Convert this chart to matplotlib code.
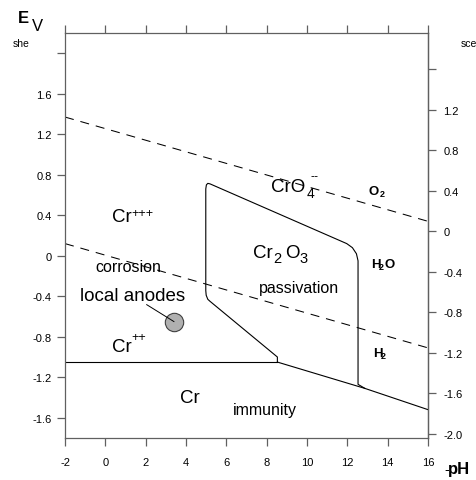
import matplotlib
matplotlib.use("Agg")
import matplotlib.pyplot as plt

plt.rcParams['font.family'] = ['Liberation Sans', 'DejaVu Sans']
plt.rcParams['axes.unicode_minus'] = False
plt.rcParams['lines.scale_dashes'] = False

# Pourbaix diagram of chromium
o2_ph = [-2, 16]
o2_e = [1.37, 0.34]
h2_ph = [-2, 16]
h2_e = [0.12, -0.91]

cr_ph = [-2, 8.53]
cr_e = [-1.05, -1.05]

oxide_ph = [8.53, 8.53, 5.19, 5.08, 5.0, 4.98, 4.98, 5.01, 5.08, 5.19,
            11.97, 12.25, 12.45, 12.53, 12.53, 12.87]
oxide_e = [-1.05, -1.0, -0.45, -0.43, -0.39, -0.345, 0.66, 0.70, 0.715, 0.71,
           0.12, 0.08, 0.02, -0.05, -1.27, -1.31]

low_ph = [8.53, 12.87, 16]
low_e = [-1.05, -1.31, -1.52]

anode_ph = 3.40
anode_e = -0.65

x_ticks = [-2, 0, 2, 4, 6, 8, 10, 12, 14, 16]
she_ticks = [-1.6, -1.2, -0.8, -0.4, 0, 0.4, 0.8, 1.2, 1.6, 2.0]
she_labels = ['-1.6', '-1.2', '-0.8', '-0.4', '0', '0.4', '0.8', '1.2', '1.6', '']
sce_ticks = [-2.0, -1.6, -1.2, -0.8, -0.4, 0, 0.4, 0.8, 1.2, 1.6]
sce_labels = ['-2.0', '-1.6', '-1.2', '-0.8', '-0.4', '0', '0.4', '0.8', '1.2', '']
sce_offset = 0.241

fig = plt.figure(figsize=(4.76, 4.81), dpi=100)
ax = fig.add_axes([0.1366, 0.0873, 0.7626, 0.842])
ax.set_xlim(-2, 16)
ax.set_ylim(-1.8, 2.2)

spine_col = '#606060'
for s in ax.spines.values():
    s.set_color(spine_col)
    s.set_linewidth(0.9)

ax.plot(o2_ph, o2_e, color='black', lw=0.75, dashes=(6.5, 5))
ax.plot(h2_ph, h2_e, color='black', lw=0.75, dashes=(6.5, 5))
ax.plot(cr_ph, cr_e, color='black', lw=0.8)
ax.plot(oxide_ph, oxide_e, color='black', lw=0.8)
ax.plot(low_ph, low_e, color='black', lw=0.8)

# local anodes marker
ax.plot([2.05, anode_ph], [-0.483, anode_e], color='black', lw=0.7, zorder=4)
ax.scatter([anode_ph], [anode_e], s=175, color='#b0b0b0', edgecolor='#404040',
           linewidth=0.8, zorder=3)

ax.set_xticks(x_ticks)
ax.set_xticklabels([str(v) for v in x_ticks])
ax.set_yticks(she_ticks)
ax.set_yticklabels(she_labels)
ax.tick_params(axis='x', direction='out', length=6, width=0.9, color=spine_col,
               labelsize=8, pad=8, top=True)
ax.tick_params(axis='y', direction='out', length=6, width=0.9, color=spine_col,
               labelsize=8, pad=3.5, right=False)

sec = ax.secondary_yaxis('right', functions=(lambda y: y - sce_offset,
                                              lambda y: y + sce_offset))
sec.set_yticks(sce_ticks)
sec.set_yticklabels(sce_labels)
sec.tick_params(direction='out', length=6, width=0.9, color=spine_col,
                labelsize=8, pad=5)
sec.spines['right'].set_color(spine_col)
sec.spines['right'].set_linewidth(0.9)

big = 13.5
mid = 11.5
ax.text(0.33, 0.34, 'Cr', fontsize=big)
ax.text(1.3, 0.39, '+++', fontsize=9)
ax.text(8.21, 0.64, 'CrO', fontsize=big)
ax.text(10.0, 0.58, '4', fontsize=10)
ax.text(10.15, 0.76, '--', fontsize=9)
ax.text(13.07, 0.61, 'O', fontsize=9.5, fontweight='bold')
ax.text(13.62, 0.59, '2', fontsize=6.5, fontweight='bold')
ax.text(7.32, -0.01, 'Cr', fontsize=big)
ax.text(8.31, -0.06, '2', fontsize=10.5)
ax.text(8.91, -0.01, 'O', fontsize=big)
ax.text(9.65, -0.06, '3', fontsize=10.5)
ax.text(13.17, -0.11, 'H', fontsize=9.5, fontweight='bold')
ax.text(13.57, -0.13, '2', fontsize=6.5, fontweight='bold')
ax.text(13.85, -0.11, 'O', fontsize=9.5, fontweight='bold')
ax.text(7.62, -0.36, 'passivation', fontsize=mid)
ax.text(-0.51, -0.15, 'corrosion', fontsize=mid)
ax.text(-1.26, -0.44, 'local anodes', fontsize=big)
ax.text(0.33, -0.94, 'Cr', fontsize=big)
ax.text(1.3, -0.83, '++', fontsize=9)
ax.text(13.27, -0.99, 'H', fontsize=9.5, fontweight='bold')
ax.text(13.67, -1.01, '2', fontsize=6.5, fontweight='bold')
ax.text(3.70, -1.44, 'Cr', fontsize=big)
ax.text(6.33, -1.56, 'immunity', fontsize=mid)

fig.text(18 / 476, 1 - 23 / 481, 'E', fontsize=12, fontweight='bold')
fig.text(32 / 476, 1 - 31 / 481, 'V', fontsize=12)
fig.text(13 / 476, 1 - 47 / 481, 'she', fontsize=7.5)
fig.text(461 / 476, 1 - 47 / 481, 'sce', fontsize=7.5)
fig.text(444 / 476, 1 - 474 / 481, '-', fontsize=10)
fig.text(448 / 476, 1 - 474 / 481, 'pH', fontsize=12, fontweight='bold')

fig.savefig('out.png', dpi=100)
